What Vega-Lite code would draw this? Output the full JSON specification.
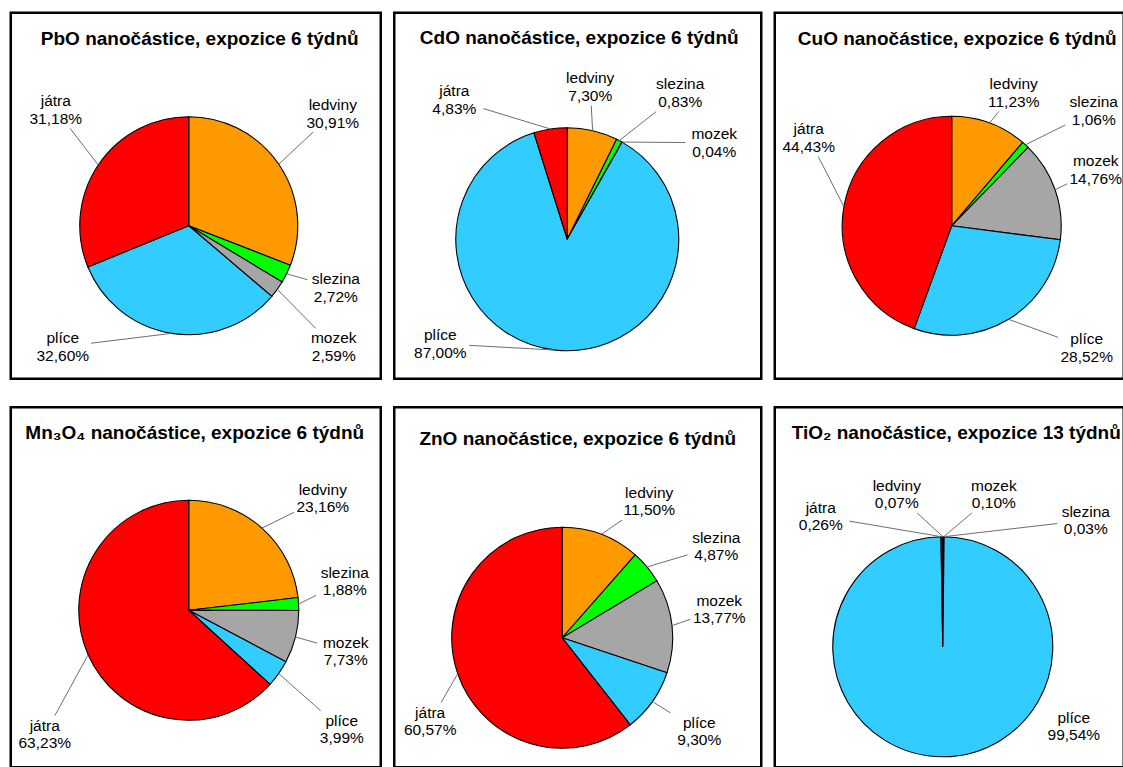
{
  "$schema": "https://vega.github.io/schema/vega-lite/v6.json",
  "background": "white",
  "padding": {"left": 8.75, "top": 10.75, "right": 0, "bottom": 0},
  "config": {
    "font": "Liberation Sans",
    "view": {"stroke": "black", "strokeWidth": 2.5},
    "title": {"font": "Liberation Sans", "fontSize": 19, "fontWeight": "bold", "color": "black", "anchor": "middle", "baseline": "middle", "frame": "group"},
    "text": {"font": "Liberation Sans", "fontSize": 15.5, "lineHeight": 17.5, "color": "black"},
    "arc": {"stroke": "black", "strokeWidth": 1.1},
    "rule": {"color": "#6e6e6e", "strokeWidth": 1}
  },
  "data": {
    "values": [
      {"nano": "PbO", "organ": "ledviny", "pct": 30.91},
      {"nano": "PbO", "organ": "slezina", "pct": 2.72},
      {"nano": "PbO", "organ": "mozek", "pct": 2.59},
      {"nano": "PbO", "organ": "plíce", "pct": 32.60},
      {"nano": "PbO", "organ": "játra", "pct": 31.18},
      {"nano": "CdO", "organ": "ledviny", "pct": 7.30},
      {"nano": "CdO", "organ": "slezina", "pct": 0.83},
      {"nano": "CdO", "organ": "mozek", "pct": 0.04},
      {"nano": "CdO", "organ": "plíce", "pct": 87.00},
      {"nano": "CdO", "organ": "játra", "pct": 4.83},
      {"nano": "CuO", "organ": "ledviny", "pct": 11.23},
      {"nano": "CuO", "organ": "slezina", "pct": 1.06},
      {"nano": "CuO", "organ": "mozek", "pct": 14.76},
      {"nano": "CuO", "organ": "plíce", "pct": 28.52},
      {"nano": "CuO", "organ": "játra", "pct": 44.43},
      {"nano": "Mn3O4", "organ": "ledviny", "pct": 23.16},
      {"nano": "Mn3O4", "organ": "slezina", "pct": 1.88},
      {"nano": "Mn3O4", "organ": "mozek", "pct": 7.73},
      {"nano": "Mn3O4", "organ": "plíce", "pct": 3.99},
      {"nano": "Mn3O4", "organ": "játra", "pct": 63.23},
      {"nano": "ZnO", "organ": "ledviny", "pct": 11.50},
      {"nano": "ZnO", "organ": "slezina", "pct": 4.87},
      {"nano": "ZnO", "organ": "mozek", "pct": 13.77},
      {"nano": "ZnO", "organ": "plíce", "pct": 9.30},
      {"nano": "ZnO", "organ": "játra", "pct": 60.57},
      {"nano": "TiO2", "organ": "ledviny", "pct": 0.07},
      {"nano": "TiO2", "organ": "slezina", "pct": 0.03},
      {"nano": "TiO2", "organ": "mozek", "pct": 0.10},
      {"nano": "TiO2", "organ": "plíce", "pct": 99.54},
      {"nano": "TiO2", "organ": "játra", "pct": 0.26}
    ]
  },
  "spacing": 24.5,
  "vconcat": [
    {
      "spacing": 9.5,
      "hconcat": [
        {
          "width": 370, "height": 366,
          "title": {"text": "PbO nanočástice, expozice 6 týdnů", "dx": 4, "offset": -36},
          "transform": [
            {"filter": "datum.nano === 'PbO'"},
            {"calculate": "indexof(['ledviny','slezina','mozek','plíce','játra'], datum.organ)", "as": "ord"},
            {"joinaggregate": [{"op": "sum", "field": "pct", "as": "total"}]},
            {"stack": "pct", "groupby": [], "sort": [{"field": "ord", "order": "ascending"}], "as": ["s0", "s1"]},
            {"calculate": "PI * (datum.s0 + datum.s1) / datum.total", "as": "mid"},
            {"calculate": "sin(datum.mid)", "as": "ex"},
            {"calculate": "cos(datum.mid)", "as": "ey"},
            {"calculate": "({'ledviny': [1.321, 1.028], 'slezina': [1.349, -0.569], 'mozek': [1.330, -1.110], 'plíce': [-1.156, -1.110], 'játra': [-1.220, 1.064]})[datum.organ]", "as": "pos"},
            {"calculate": "datum.pos[0]", "as": "lx"},
            {"calculate": "datum.pos[1]", "as": "ly"},
            {"calculate": "min(0.26 / abs(datum.ex - datum.lx), 0.17 / abs(datum.ey - datum.ly))", "as": "t"},
            {"calculate": "datum.lx + (datum.ex - datum.lx) * datum.t", "as": "qx"},
            {"calculate": "datum.ly + (datum.ey - datum.ly) * datum.t", "as": "qy"},
            {"calculate": "datum.organ + '\\n' + replace(format(datum.pct, '.2f'), '.', ',') + '%'", "as": "label"}
          ],
          "layer": [
            {
              "mark": {"type": "arc", "outerRadius": 109},
              "encoding": {
                "theta": {"field": "pct", "type": "quantitative", "stack": true},
                "order": {"field": "ord", "type": "quantitative"},
                "color": {"field": "organ", "type": "nominal", "legend": null, "scale": {"domain": ["ledviny", "slezina", "mozek", "plíce", "játra"], "range": ["#FF9900", "#00FF00", "#A6A6A6", "#33CCFF", "#FF0000"]}},
                "x": {"datum": 0, "type": "quantitative", "axis": null, "scale": {"domain": [-1.633, 1.761], "nice": false, "zero": false}},
                "y": {"datum": 0, "type": "quantitative", "axis": null, "scale": {"domain": [-1.404, 1.954], "nice": false, "zero": false}}
              }
            },
            {
              "transform": [{"filter": "datum.t < 1"}],
              "mark": {"type": "rule"},
              "encoding": {
                "x": {"field": "ex", "type": "quantitative", "axis": null, "scale": {"domain": [-1.633, 1.761], "nice": false, "zero": false}},
                "y": {"field": "ey", "type": "quantitative", "axis": null, "scale": {"domain": [-1.404, 1.954], "nice": false, "zero": false}},
                "x2": {"field": "qx"},
                "y2": {"field": "qy"}
              }
            },
            {
              "mark": {"type": "text", "lineBreak": "\n", "align": "center", "baseline": "middle", "dy": -8.5},
              "encoding": {
                "x": {"field": "lx", "type": "quantitative", "axis": null, "scale": {"domain": [-1.633, 1.761], "nice": false, "zero": false}},
                "y": {"field": "ly", "type": "quantitative", "axis": null, "scale": {"domain": [-1.404, 1.954], "nice": false, "zero": false}},
                "text": {"field": "label", "type": "nominal"}
              }
            }
          ]
        },
        {
          "width": 367, "height": 366,
          "title": {"text": "CdO nanočástice, expozice 6 týdnů", "dx": 1.5, "offset": -35},
          "transform": [
            {"filter": "datum.nano === 'CdO'"},
            {"calculate": "indexof(['ledviny','slezina','mozek','plíce','játra'], datum.organ)", "as": "ord"},
            {"joinaggregate": [{"op": "sum", "field": "pct", "as": "total"}]},
            {"stack": "pct", "groupby": [], "sort": [{"field": "ord", "order": "ascending"}], "as": ["s0", "s1"]},
            {"calculate": "PI * (datum.s0 + datum.s1) / datum.total", "as": "mid"},
            {"calculate": "sin(datum.mid)", "as": "ex"},
            {"calculate": "cos(datum.mid)", "as": "ey"},
            {"calculate": "({'ledviny': [0.206, 1.368], 'slezina': [1.013, 1.314], 'mozek': [1.318, 0.865], 'plíce': [-1.139, -0.937], 'játra': [-1.013, 1.251]})[datum.organ]", "as": "pos"},
            {"calculate": "datum.pos[0]", "as": "lx"},
            {"calculate": "datum.pos[1]", "as": "ly"},
            {"calculate": "min(0.26 / abs(datum.ex - datum.lx), 0.17 / abs(datum.ey - datum.ly))", "as": "t"},
            {"calculate": "datum.lx + (datum.ex - datum.lx) * datum.t", "as": "qx"},
            {"calculate": "datum.ly + (datum.ey - datum.ly) * datum.t", "as": "qy"},
            {"calculate": "datum.organ + '\\n' + replace(format(datum.pct, '.2f'), '.', ',') + '%'", "as": "label"}
          ],
          "layer": [
            {
              "mark": {"type": "arc", "outerRadius": 111.5},
              "encoding": {
                "theta": {"field": "pct", "type": "quantitative", "stack": true},
                "order": {"field": "ord", "type": "quantitative"},
                "color": {"field": "organ", "type": "nominal", "legend": null, "scale": {"domain": ["ledviny", "slezina", "mozek", "plíce", "játra"], "range": ["#FF9900", "#00FF00", "#A6A6A6", "#33CCFF", "#FF0000"]}},
                "x": {"datum": 0, "type": "quantitative", "axis": null, "scale": {"domain": [-1.552, 1.740], "nice": false, "zero": false}},
                "y": {"datum": 0, "type": "quantitative", "axis": null, "scale": {"domain": [-1.251, 2.031], "nice": false, "zero": false}}
              }
            },
            {
              "transform": [{"filter": "datum.t < 1"}],
              "mark": {"type": "rule"},
              "encoding": {
                "x": {"field": "ex", "type": "quantitative", "axis": null, "scale": {"domain": [-1.552, 1.740], "nice": false, "zero": false}},
                "y": {"field": "ey", "type": "quantitative", "axis": null, "scale": {"domain": [-1.251, 2.031], "nice": false, "zero": false}},
                "x2": {"field": "qx"},
                "y2": {"field": "qy"}
              }
            },
            {
              "mark": {"type": "text", "lineBreak": "\n", "align": "center", "baseline": "middle", "dy": -8.5},
              "encoding": {
                "x": {"field": "lx", "type": "quantitative", "axis": null, "scale": {"domain": [-1.552, 1.740], "nice": false, "zero": false}},
                "y": {"field": "ly", "type": "quantitative", "axis": null, "scale": {"domain": [-1.251, 2.031], "nice": false, "zero": false}},
                "text": {"field": "label", "type": "nominal"}
              }
            }
          ]
        },
        {
          "width": 349, "height": 366,
          "title": {"text": "CuO nanočástice, expozice 6 týdnů", "dx": 8, "offset": -36},
          "transform": [
            {"filter": "datum.nano === 'CuO'"},
            {"calculate": "indexof(['ledviny','slezina','mozek','plíce','játra'], datum.organ)", "as": "ord"},
            {"joinaggregate": [{"op": "sum", "field": "pct", "as": "total"}]},
            {"stack": "pct", "groupby": [], "sort": [{"field": "ord", "order": "ascending"}], "as": ["s0", "s1"]},
            {"calculate": "PI * (datum.s0 + datum.s1) / datum.total", "as": "mid"},
            {"calculate": "sin(datum.mid)", "as": "ex"},
            {"calculate": "cos(datum.mid)", "as": "ey"},
            {"calculate": "({'ledviny': [0.566, 1.215], 'slezina': [1.297, 1.050], 'mozek': [1.315, 0.511], 'plíce': [1.233, -1.114], 'játra': [-1.306, 0.804]})[datum.organ]", "as": "pos"},
            {"calculate": "datum.pos[0]", "as": "lx"},
            {"calculate": "datum.pos[1]", "as": "ly"},
            {"calculate": "min(0.26 / abs(datum.ex - datum.lx), 0.17 / abs(datum.ey - datum.ly))", "as": "t"},
            {"calculate": "datum.lx + (datum.ex - datum.lx) * datum.t", "as": "qx"},
            {"calculate": "datum.ly + (datum.ey - datum.ly) * datum.t", "as": "qy"},
            {"calculate": "datum.organ + '\\n' + replace(format(datum.pct, '.2f'), '.', ',') + '%'", "as": "label"}
          ],
          "layer": [
            {
              "mark": {"type": "arc", "outerRadius": 109.5},
              "encoding": {
                "theta": {"field": "pct", "type": "quantitative", "stack": true},
                "order": {"field": "ord", "type": "quantitative"},
                "color": {"field": "organ", "type": "nominal", "legend": null, "scale": {"domain": ["ledviny", "slezina", "mozek", "plíce", "játra"], "range": ["#FF9900", "#00FF00", "#A6A6A6", "#33CCFF", "#FF0000"]}},
                "x": {"datum": 0, "type": "quantitative", "axis": null, "scale": {"domain": [-1.616, 1.571], "nice": false, "zero": false}},
                "y": {"datum": 0, "type": "quantitative", "axis": null, "scale": {"domain": [-1.397, 1.945], "nice": false, "zero": false}}
              }
            },
            {
              "transform": [{"filter": "datum.t < 1"}],
              "mark": {"type": "rule"},
              "encoding": {
                "x": {"field": "ex", "type": "quantitative", "axis": null, "scale": {"domain": [-1.616, 1.571], "nice": false, "zero": false}},
                "y": {"field": "ey", "type": "quantitative", "axis": null, "scale": {"domain": [-1.397, 1.945], "nice": false, "zero": false}},
                "x2": {"field": "qx"},
                "y2": {"field": "qy"}
              }
            },
            {
              "mark": {"type": "text", "lineBreak": "\n", "align": "center", "baseline": "middle", "dy": -8.5, "clip": true},
              "encoding": {
                "x": {"field": "lx", "type": "quantitative", "axis": null, "scale": {"domain": [-1.616, 1.571], "nice": false, "zero": false}},
                "y": {"field": "ly", "type": "quantitative", "axis": null, "scale": {"domain": [-1.397, 1.945], "nice": false, "zero": false}},
                "text": {"field": "label", "type": "nominal"}
              }
            }
          ]
        }
      ]
    },
    {
      "spacing": 9.5,
      "hconcat": [
        {
          "width": 370, "height": 360,
          "title": {"text": "Mn₃O₄ nanočástice, expozice 6 týdnů", "dx": -1, "offset": -36},
          "transform": [
            {"filter": "datum.nano === 'Mn3O4'"},
            {"calculate": "indexof(['ledviny','slezina','mozek','plíce','játra'], datum.organ)", "as": "ord"},
            {"joinaggregate": [{"op": "sum", "field": "pct", "as": "total"}]},
            {"stack": "pct", "groupby": [], "sort": [{"field": "ord", "order": "ascending"}], "as": ["s0", "s1"]},
            {"calculate": "PI * (datum.s0 + datum.s1) / datum.total", "as": "mid"},
            {"calculate": "sin(datum.mid)", "as": "ex"},
            {"calculate": "cos(datum.mid)", "as": "ey"},
            {"calculate": "({'ledviny': [1.218, 1.018], 'slezina': [1.418, 0.264], 'mozek': [1.427, -0.373], 'plíce': [1.391, -1.082], 'játra': [-1.309, -1.127]})[datum.organ]", "as": "pos"},
            {"calculate": "datum.pos[0]", "as": "lx"},
            {"calculate": "datum.pos[1]", "as": "ly"},
            {"calculate": "min(0.26 / abs(datum.ex - datum.lx), 0.17 / abs(datum.ey - datum.ly))", "as": "t"},
            {"calculate": "datum.lx + (datum.ex - datum.lx) * datum.t", "as": "qx"},
            {"calculate": "datum.ly + (datum.ey - datum.ly) * datum.t", "as": "qy"},
            {"calculate": "datum.organ + '\\n' + replace(format(datum.pct, '.2f'), '.', ',') + '%'", "as": "label"}
          ],
          "layer": [
            {
              "mark": {"type": "arc", "outerRadius": 110},
              "encoding": {
                "theta": {"field": "pct", "type": "quantitative", "stack": true},
                "order": {"field": "ord", "type": "quantitative"},
                "color": {"field": "organ", "type": "nominal", "legend": null, "scale": {"domain": ["ledviny", "slezina", "mozek", "plíce", "játra"], "range": ["#FF9900", "#00FF00", "#A6A6A6", "#33CCFF", "#FF0000"]}},
                "x": {"datum": 0, "type": "quantitative", "axis": null, "scale": {"domain": [-1.618, 1.745], "nice": false, "zero": false}},
                "y": {"datum": 0, "type": "quantitative", "axis": null, "scale": {"domain": [-1.427, 1.845], "nice": false, "zero": false}}
              }
            },
            {
              "transform": [{"filter": "datum.t < 1"}],
              "mark": {"type": "rule"},
              "encoding": {
                "x": {"field": "ex", "type": "quantitative", "axis": null, "scale": {"domain": [-1.618, 1.745], "nice": false, "zero": false}},
                "y": {"field": "ey", "type": "quantitative", "axis": null, "scale": {"domain": [-1.427, 1.845], "nice": false, "zero": false}},
                "x2": {"field": "qx"},
                "y2": {"field": "qy"}
              }
            },
            {
              "mark": {"type": "text", "lineBreak": "\n", "align": "center", "baseline": "middle", "dy": -8.5},
              "encoding": {
                "x": {"field": "lx", "type": "quantitative", "axis": null, "scale": {"domain": [-1.618, 1.745], "nice": false, "zero": false}},
                "y": {"field": "ly", "type": "quantitative", "axis": null, "scale": {"domain": [-1.427, 1.845], "nice": false, "zero": false}},
                "text": {"field": "label", "type": "nominal"}
              }
            }
          ]
        },
        {
          "width": 367, "height": 360,
          "title": {"text": "ZnO nanočástice, expozice 6 týdnů", "dx": 0, "offset": -42},
          "transform": [
            {"filter": "datum.nano === 'ZnO'"},
            {"calculate": "indexof(['ledviny','slezina','mozek','plíce','játra'], datum.organ)", "as": "ord"},
            {"joinaggregate": [{"op": "sum", "field": "pct", "as": "total"}]},
            {"stack": "pct", "groupby": [], "sort": [{"field": "ord", "order": "ascending"}], "as": ["s0", "s1"]},
            {"calculate": "PI * (datum.s0 + datum.s1) / datum.total", "as": "mid"},
            {"calculate": "sin(datum.mid)", "as": "ex"},
            {"calculate": "cos(datum.mid)", "as": "ey"},
            {"calculate": "({'ledviny': [0.787, 1.235], 'slezina': [1.394, 0.828], 'mozek': [1.421, 0.258], 'plíce': [1.240, -0.846], 'játra': [-1.195, -0.756]})[datum.organ]", "as": "pos"},
            {"calculate": "datum.pos[0]", "as": "lx"},
            {"calculate": "datum.pos[1]", "as": "ly"},
            {"calculate": "min(0.26 / abs(datum.ex - datum.lx), 0.17 / abs(datum.ey - datum.ly))", "as": "t"},
            {"calculate": "datum.lx + (datum.ex - datum.lx) * datum.t", "as": "qx"},
            {"calculate": "datum.ly + (datum.ey - datum.ly) * datum.t", "as": "qy"},
            {"calculate": "datum.organ + '\\n' + replace(format(datum.pct, '.2f'), '.', ',') + '%'", "as": "label"}
          ],
          "layer": [
            {
              "mark": {"type": "arc", "outerRadius": 110.5},
              "encoding": {
                "theta": {"field": "pct", "type": "quantitative", "stack": true},
                "order": {"field": "ord", "type": "quantitative"},
                "color": {"field": "organ", "type": "nominal", "legend": null, "scale": {"domain": ["ledviny", "slezina", "mozek", "plíce", "játra"], "range": ["#FF9900", "#00FF00", "#A6A6A6", "#33CCFF", "#FF0000"]}},
                "x": {"datum": 0, "type": "quantitative", "axis": null, "scale": {"domain": [-1.520, 1.801], "nice": false, "zero": false}},
                "y": {"datum": 0, "type": "quantitative", "axis": null, "scale": {"domain": [-1.172, 2.086], "nice": false, "zero": false}}
              }
            },
            {
              "transform": [{"filter": "datum.t < 1"}],
              "mark": {"type": "rule"},
              "encoding": {
                "x": {"field": "ex", "type": "quantitative", "axis": null, "scale": {"domain": [-1.520, 1.801], "nice": false, "zero": false}},
                "y": {"field": "ey", "type": "quantitative", "axis": null, "scale": {"domain": [-1.172, 2.086], "nice": false, "zero": false}},
                "x2": {"field": "qx"},
                "y2": {"field": "qy"}
              }
            },
            {
              "mark": {"type": "text", "lineBreak": "\n", "align": "center", "baseline": "middle", "dy": -8.5},
              "encoding": {
                "x": {"field": "lx", "type": "quantitative", "axis": null, "scale": {"domain": [-1.520, 1.801], "nice": false, "zero": false}},
                "y": {"field": "ly", "type": "quantitative", "axis": null, "scale": {"domain": [-1.172, 2.086], "nice": false, "zero": false}},
                "text": {"field": "label", "type": "nominal"}
              }
            }
          ]
        },
        {
          "width": 349, "height": 360,
          "title": {"text": "TiO₂ nanočástice, expozice 13 týdnů", "dx": 7, "offset": -36},
          "transform": [
            {"filter": "datum.nano === 'TiO2'"},
            {"calculate": "indexof(['ledviny','slezina','mozek','plíce','játra'], datum.organ)", "as": "ord"},
            {"joinaggregate": [{"op": "sum", "field": "pct", "as": "total"}]},
            {"stack": "pct", "groupby": [], "sort": [{"field": "ord", "order": "ascending"}], "as": ["s0", "s1"]},
            {"calculate": "PI * (datum.s0 + datum.s1) / datum.total", "as": "mid"},
            {"calculate": "sin(datum.mid)", "as": "ex"},
            {"calculate": "cos(datum.mid)", "as": "ey"},
            {"calculate": "({'ledviny': [-0.418, 1.386], 'slezina': [1.300, 1.150], 'mozek': [0.464, 1.386], 'plíce': [1.191, -0.723], 'játra': [-1.109, 1.186]})[datum.organ]", "as": "pos"},
            {"calculate": "datum.pos[0]", "as": "lx"},
            {"calculate": "datum.pos[1]", "as": "ly"},
            {"calculate": "min(0.26 / abs(datum.ex - datum.lx), 0.17 / abs(datum.ey - datum.ly))", "as": "t"},
            {"calculate": "datum.lx + (datum.ex - datum.lx) * datum.t", "as": "qx"},
            {"calculate": "datum.ly + (datum.ey - datum.ly) * datum.t", "as": "qy"},
            {"calculate": "datum.organ + '\\n' + replace(format(datum.pct, '.2f'), '.', ',') + '%'", "as": "label"}
          ],
          "layer": [
            {
              "mark": {"type": "arc", "outerRadius": 110},
              "encoding": {
                "theta": {"field": "pct", "type": "quantitative", "stack": true},
                "order": {"field": "ord", "type": "quantitative"},
                "color": {"field": "organ", "type": "nominal", "legend": null, "scale": {"domain": ["ledviny", "slezina", "mozek", "plíce", "játra"], "range": ["#FF9900", "#00FF00", "#A6A6A6", "#33CCFF", "#FF0000"]}},
                "x": {"datum": 0, "type": "quantitative", "axis": null, "scale": {"domain": [-1.527, 1.645], "nice": false, "zero": false}},
                "y": {"datum": 0, "type": "quantitative", "axis": null, "scale": {"domain": [-1.095, 2.177], "nice": false, "zero": false}}
              }
            },
            {
              "transform": [{"filter": "datum.t < 1 && datum.organ !== 'plíce'"}],
              "mark": {"type": "rule"},
              "encoding": {
                "x": {"field": "ex", "type": "quantitative", "axis": null, "scale": {"domain": [-1.527, 1.645], "nice": false, "zero": false}},
                "y": {"field": "ey", "type": "quantitative", "axis": null, "scale": {"domain": [-1.095, 2.177], "nice": false, "zero": false}},
                "x2": {"field": "qx"},
                "y2": {"field": "qy"}
              }
            },
            {
              "mark": {"type": "text", "lineBreak": "\n", "align": "center", "baseline": "middle", "dy": -8.5},
              "encoding": {
                "x": {"field": "lx", "type": "quantitative", "axis": null, "scale": {"domain": [-1.527, 1.645], "nice": false, "zero": false}},
                "y": {"field": "ly", "type": "quantitative", "axis": null, "scale": {"domain": [-1.095, 2.177], "nice": false, "zero": false}},
                "text": {"field": "label", "type": "nominal"}
              }
            }
          ]
        }
      ]
    }
  ]
}
